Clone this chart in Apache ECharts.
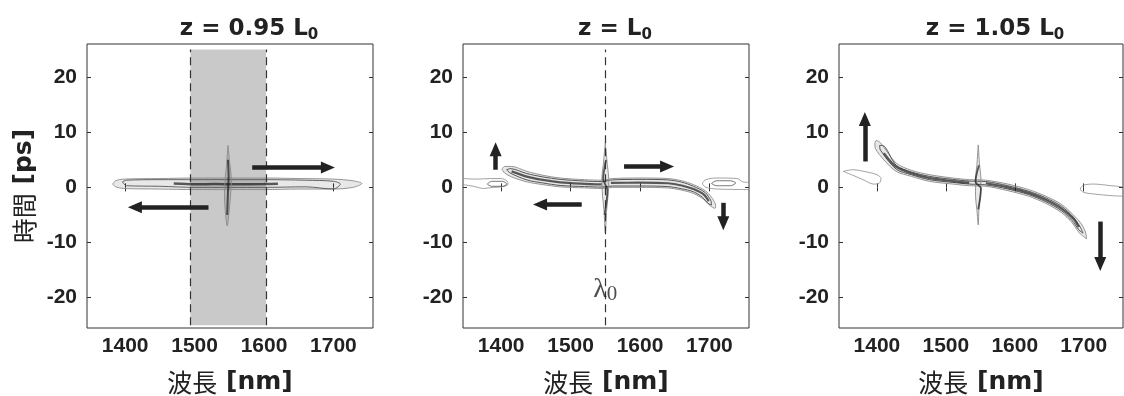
<!DOCTYPE html>
<html>
<head>
<meta charset="utf-8">
<script src="https://cdn.jsdelivr.net/npm/echarts@6/dist/echarts.min.js"></script>
<style>
html, body { margin: 0; padding: 0; background: #fff; }
#chart { width: 1124px; height: 396px; }
</style>
</head>
<body>
<div id="chart"></div>
<script>
// axes
var xTicks = [1400, 1500, 1600, 1700];
var yTicks = [-20, -10, 0, 10, 20];
var xRange = [1345, 1757];
var yRange = [-25.5, 26];
var titleText = ['z = 0.95 L', 'z = L', 'z = 1.05 L'];

// ---------- z = 0.95 L0 ----------
var p1Band = [1494, 1603];
var p1OuterTop = [[1382,0.6],[1386,1.2],[1398,1.5],[1450,1.6],[1500,1.7],[1600,1.7],[1650,1.6],[1700,1.5],[1728,1.2],[1741,0.7]];
var p1OuterBot = [[1382,0.6],[1386,0.1],[1398,-0.2],[1450,-0.3],[1500,-0.4],[1600,-0.4],[1650,-0.3],[1700,-0.3],[1728,0.0],[1741,0.7]];
var p1MidTop = [[1396,1.0],[1402,1.3],[1450,1.4],[1500,1.4],[1600,1.4],[1660,1.3],[1700,1.1],[1710,0.6]];
var p1MidBot = [[1396,1.0],[1402,0.3],[1450,0.2],[1500,0.0],[1600,0.0],[1660,0.1],[1700,-0.3],[1710,0.6]];
var p1Core = [[1470,0.7],[1500,0.55],[1530,0.6],[1560,0.55],[1600,0.6],[1620,0.65]];
var p1Spike = [[1548,7.6],[1551,4],[1553,1.5],[1552,-1],[1550,-4],[1547,-7],[1544,-4],[1543,-1],[1544,1.5],[1546,4],[1548,7.6]];
var p1SpikeCore = [[1548,5],[1549,2],[1548,-1],[1547,-5]];
var p1Arrows = [[[1583,3.6],[1692,3.6]], [[1520,-3.6],[1414,-3.6]]];

// ---------- z = L0 ----------
var p2Lambda = [1550, -18.6];
var p2OuterTop = [[1401,3.3],[1405,3.8],[1415,3.8],[1437,2.9],[1460,2.2],[1485,1.7],[1520,1.4],[1545,1.3],[1560,1.6],[1600,1.7],[1640,1.6],[1660,1.2],[1677,0.5],[1694,-0.6],[1703,-1.8],[1709,-3.3],[1708,-3.8]];
var p2OuterBot = [[1401,3.3],[1405,2.6],[1415,1.9],[1437,1.0],[1460,0.5],[1485,0.1],[1520,-0.1],[1545,-0.2],[1560,0.0],[1600,0.0],[1640,-0.1],[1660,-0.5],[1677,-1.1],[1692,-2.2],[1701,-3.3],[1708,-3.8]];
var p2MidTop = [[1408,3.2],[1413,3.4],[1437,2.5],[1460,1.9],[1485,1.45],[1520,1.15],[1545,1.05],[1560,1.35],[1600,1.45],[1640,1.35],[1660,0.95],[1677,0.2],[1694,-0.95],[1702,-2.4],[1703,-3.2]];
var p2MidBot = [[1408,3.2],[1413,2.6],[1437,1.35],[1460,0.8],[1485,0.35],[1520,0.15],[1545,0.05],[1560,0.25],[1600,0.25],[1640,0.15],[1660,-0.25],[1677,-0.8],[1690,-1.8],[1698,-2.9],[1703,-3.2]];
var p2CoreL = [[1415,2.9],[1437,1.95],[1460,1.35],[1485,0.9],[1520,0.65],[1545,0.55]];
var p2CoreR = [[1558,0.8],[1600,0.85],[1640,0.75],[1660,0.35],[1677,-0.3],[1692,-1.3],[1699,-2.5]];
var p2Spike = [[1550,8.1],[1553,4],[1555,1.5],[1554,-1.5],[1552,-4],[1550,-8.2],[1548,-4],[1546,-1.5],[1545,1.5],[1547,4],[1550,8.1]];
var p2SpikeCore = [[1551,5],[1547,1.5],[1553,-0.5],[1549,-5]];
var p2LeftLobe = [[1345,1.6],[1365,1.5],[1385,1.6],[1400,1.6],[1408,1.2],[1410,0.6],[1402,0.1],[1388,0.0],[1375,-0.2],[1360,0.2],[1345,0.5]];
var p2LeftCore = [[1380,0.6],[1386,1.1],[1402,1.1],[1408,0.6],[1402,0.2],[1386,0.2],[1380,0.6]];
var p2RightLobe = [[1757,0.9],[1748,1.0],[1740,1.6],[1710,1.7],[1695,1.4],[1690,0.7],[1695,0.0],[1712,-0.3],[1757,-0.4]];
var p2RightCore = [[1703,0.7],[1710,1.2],[1730,1.2],[1738,0.8],[1730,0.3],[1710,0.3],[1703,0.7]];
var p2Arrows = [[[1392,3.2],[1392,6.9]], [[1577,3.8],[1639,3.8]], [[1516,-3.1],[1456,-3.1]], [[1720,-2.8],[1720,-6.5]]];

// ---------- z = 1.05 L0 ----------
var p3OuterTop = [[1397,8.0],[1399,8.5],[1405,8.1],[1428,4.4],[1450,3.1],[1476,2.3],[1510,1.7],[1534,1.4],[1558,1.3],[1590,0.6],[1620,-0.4],[1645,-1.6],[1668,-3.1],[1685,-5.0],[1697,-6.7],[1703,-8.3],[1704,-9.3]];
var p3OuterBot = [[1397,8.0],[1398,7.0],[1410,5.0],[1428,2.9],[1450,2.0],[1476,1.1],[1510,0.6],[1534,0.3],[1558,0.2],[1590,-0.6],[1620,-1.6],[1645,-2.9],[1668,-4.6],[1683,-6.4],[1694,-8.3],[1704,-9.3]];
var p3MidTop = [[1404,7.6],[1408,7.6],[1428,4.0],[1450,2.8],[1476,2.0],[1510,1.45],[1534,1.15],[1558,1.05],[1590,0.3],[1620,-0.7],[1645,-1.9],[1668,-3.45],[1685,-5.4],[1695,-7.2],[1699,-8.3]];
var p3MidBot = [[1404,7.6],[1405,6.8],[1428,3.3],[1450,2.3],[1476,1.4],[1510,0.9],[1534,0.6],[1558,0.45],[1590,-0.3],[1620,-1.3],[1645,-2.6],[1668,-4.25],[1683,-6.0],[1693,-7.7],[1699,-8.3]];
var p3CoreL = [[1410,6.2],[1428,3.7],[1450,2.55],[1476,1.7],[1510,1.15],[1534,0.85]];
var p3CoreR = [[1558,0.75],[1590,0.0],[1620,-1.0],[1645,-2.25],[1668,-3.85],[1685,-5.7],[1693,-7.2]];
var p3Spike = [[1547,7.7],[1549,4],[1551,1.5],[1550,-1.5],[1548,-4],[1547,-6.8],[1545,-4],[1543,-1.5],[1543,1.5],[1545,4],[1547,7.7]];
var p3SpikeCore = [[1548,4],[1543,1.0],[1551,-0.2],[1547,-4]];
var p3LeftLobe = [[1351,2.9],[1365,3.2],[1385,2.8],[1400,2.3],[1406,1.6],[1403,0.7],[1395,0.6],[1380,1.4],[1365,2.2],[1351,2.9]];
var p3RightLobe = [[1757,0.1],[1740,0.3],[1715,0.6],[1700,0.4],[1695,-0.3],[1700,-0.9],[1715,-1.2],[1740,-1.5],[1757,-1.6]];
var p3Arrows = [[[1382.5,4.7],[1382.5,12.4]], [[1724,-6.2],[1724,-13.9]]];

var gridLeft = [87, 463, 839];
var gridWidth = [286, 286, 284];
var titleX = [244, 610, 990];
var ink = '#222';

function loop(top, bot) {
    return top.concat(bot.slice().reverse(), [top[0]]);
}

function line(p, pts, color, width, smooth) {
    return {
        type: 'line', xAxisIndex: p, yAxisIndex: p, data: pts,
        symbol: 'none', smooth: smooth === undefined ? 0.3 : smooth,
        lineStyle: { color: color, width: width }, z: 4, silent: true
    };
}

// light stipple-like fill inside an outer contour
function fill(p, pts) {
    return {
        type: 'custom', xAxisIndex: p, yAxisIndex: p, data: [0], z: 3, silent: true,
        renderItem: function (params, api) {
            return {
                type: 'polygon',
                shape: { points: pts.map(function (d) { return api.coord(d); }), smooth: 0.3 },
                style: { fill: 'rgba(0,0,0,0.09)' }
            };
        }
    };
}

function arrows(p, list) {
    return {
        type: 'line', xAxisIndex: p, yAxisIndex: p, data: [], z: 6,
        markLine: {
            silent: true, symbol: ['none', 'triangle'], symbolSize: [12, 14],
            lineStyle: { color: ink, width: 4.5, type: 'solid' },
            label: { show: false },
            data: list.map(function (a) { return [{ coord: a[0] }, { coord: a[1] }]; })
        }
    };
}

function dashed(p, xs) {
    return {
        type: 'line', xAxisIndex: p, yAxisIndex: p, data: [], z: 5,
        markLine: {
            silent: true, symbol: ['none', 'none'],
            lineStyle: { color: '#333', width: 1.2, type: [8, 5] },
            label: { show: false },
            data: xs.map(function (x) { return [{ coord: [x, -25] }, { coord: [x, 25] }]; })
        }
    };
}

function plain(v) { return String(v); }

var nameRich = {
    c: { fontFamily: 'Noto Sans CJK JP', fontSize: 25, color: ink },
    b: { fontFamily: 'DejaVu Sans', fontWeight: 'bold', fontSize: 25, color: ink }
};
var tickFont = { fontFamily: 'Liberation Sans', fontWeight: 'bold', fontSize: 21, color: ink };
var grids = [], xAxes = [], yAxes = [];
for (var i = 0; i < 3; i++) {
    grids.push({ left: gridLeft[i], top: 44, width: gridWidth[i], height: 284, show: true,
                 outerBoundsMode: 'none', containLabel: false,
                 borderColor: '#333', borderWidth: 1, backgroundColor: 'transparent' });
    xAxes.push({
        type: 'value', gridIndex: i, min: xRange[0], max: xRange[1],
        axisLine: { show: false }, splitLine: { show: false },
        axisTick: { inside: true, length: 4, customValues: xTicks, lineStyle: { color: '#333' } },
        axisLabel: Object.assign({ customValues: xTicks, margin: 8, formatter: plain }, tickFont),
        name: '{c|波長}{b| [nm]}', nameLocation: 'middle', nameGap: 42,
        nameTextStyle: { rich: nameRich }
    });
    yAxes.push({
        type: 'value', gridIndex: i, min: yRange[0], max: yRange[1],
        axisLine: { show: false }, splitLine: { show: false },
        axisTick: { inside: true, length: 4, customValues: yTicks, lineStyle: { color: '#333' } },
        axisLabel: Object.assign({ customValues: yTicks, margin: 10, formatter: plain }, tickFont),
        name: i === 0 ? '{c|時間}{b| [ps]}' : '', nameLocation: 'middle', nameGap: 50,
        nameTextStyle: { rich: nameRich }
    });
}
for (var i = 0; i < 3; i++) {
    xAxes.push({ type: 'value', gridIndex: i, position: 'top', min: xRange[0], max: xRange[1],
        axisLine: { show: false }, splitLine: { show: false }, axisLabel: { show: false },
        axisTick: { inside: true, length: 4, customValues: xTicks, lineStyle: { color: '#333' } } });
    yAxes.push({ type: 'value', gridIndex: i, position: 'right', min: yRange[0], max: yRange[1],
        axisLine: { show: false }, splitLine: { show: false }, axisLabel: { show: false },
        axisTick: { inside: true, length: 4, customValues: yTicks, lineStyle: { color: '#333' } } });
}

var outerC = '#8a8a8a', midC = '#555', coreC = 'rgba(25,25,25,0.7)';
var series = [
    // panel 1
    { type: 'line', xAxisIndex: 0, yAxisIndex: 0, data: [], z: 1,
      markArea: { silent: true, itemStyle: { color: '#c9c9c9' },
                  data: [[{ coord: [p1Band[0], -25] }, { coord: [p1Band[1], 25] }]] } },
    dashed(0, p1Band),
    fill(0, loop(p1OuterTop, p1OuterBot)),
    line(0, loop(p1OuterTop, p1OuterBot), outerC, 0.9),
    line(0, loop(p1MidTop, p1MidBot), midC, 0.9),
    line(0, p1Core, coreC, 2.5),
    fill(0, p1Spike),
    line(0, p1Spike, outerC, 0.9),
    line(0, p1SpikeCore, coreC, 2),
    arrows(0, p1Arrows),
    // panel 2
    dashed(1, [p2Lambda[0]]),
    fill(1, loop(p2OuterTop, p2OuterBot)),
    line(1, loop(p2OuterTop, p2OuterBot), outerC, 0.9),
    line(1, loop(p2MidTop, p2MidBot), midC, 1),
    line(1, p2CoreL, coreC, 2.2),
    line(1, p2CoreR, coreC, 2.2),
    fill(1, p2Spike),
    line(1, p2Spike, outerC, 0.9),
    line(1, p2SpikeCore, coreC, 1.8),
    line(1, p2LeftLobe, outerC, 0.8),
    line(1, p2LeftCore, midC, 0.8),
    line(1, p2RightLobe, outerC, 0.8),
    line(1, p2RightCore, midC, 0.8),
    arrows(1, p2Arrows),
    { type: 'scatter', xAxisIndex: 1, yAxisIndex: 1, data: [p2Lambda], symbolSize: 0, z: 7, silent: true,
      label: { show: true, position: 'inside', formatter: '{l|λ}{s|0}',
               rich: { l: { fontFamily: 'Liberation Serif', fontSize: 28, lineHeight: 30, color: ink },
                       s: { fontFamily: 'Liberation Serif', fontSize: 21, lineHeight: 18, verticalAlign: 'bottom', color: ink } } } },
    // panel 3
    fill(2, loop(p3OuterTop, p3OuterBot)),
    line(2, loop(p3OuterTop, p3OuterBot), outerC, 0.9),
    line(2, loop(p3MidTop, p3MidBot), midC, 1),
    line(2, p3CoreL, coreC, 2.2),
    line(2, p3CoreR, coreC, 2.2),
    fill(2, p3Spike),
    line(2, p3Spike, outerC, 0.9),
    line(2, p3SpikeCore, coreC, 1.8),
    line(2, p3LeftLobe, outerC, 0.8),
    line(2, p3RightLobe, outerC, 0.8),
    arrows(2, p3Arrows)
];

var chart = echarts.init(document.getElementById('chart'));
chart.setOption({
    animation: false,
    backgroundColor: '#fff',
    title: titleText.map(function (t, i) {
        return {
            text: '{t|' + t + '}{s|0}', left: titleX[i], top: 10, textAlign: 'center',
            textStyle: { rich: {
                t: { fontFamily: 'DejaVu Sans', fontWeight: 'bold', fontSize: 23, lineHeight: 28, color: ink },
                s: { fontFamily: 'DejaVu Sans', fontWeight: 'bold', fontSize: 15, lineHeight: 15, verticalAlign: 'bottom', color: ink }
            } }
        };
    }),
    grid: grids,
    xAxis: xAxes,
    yAxis: yAxes,
    series: series
});
</script>
</body>
</html>
